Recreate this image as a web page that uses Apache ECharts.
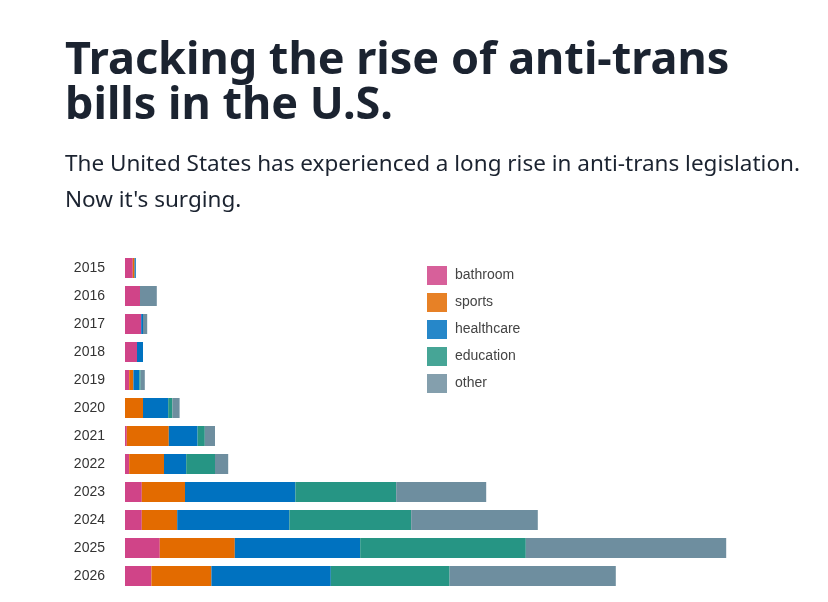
<!DOCTYPE html>
<html>
<head>
<meta charset="utf-8">
<script src="https://cdn.jsdelivr.net/npm/echarts@6/dist/echarts.min.js"></script>
<style>
  html, body { margin: 0; padding: 0; background: #fff; }
  #chart { width: 828px; height: 602px; }
</style>
</head>
<body>
<div id="chart"></div>
<script>
var years = ['2015', '2016', '2017', '2018', '2019', '2020', '2021', '2022', '2023', '2024', '2025', '2026'];
var bathroom   = [13, 25, 27, 20, 7, 0, 3, 7, 28, 28, 58, 44];
var sports     = [3, 0, 0, 0, 7, 30, 70, 58, 72, 59, 125, 100];
var healthcare = [2, 0, 3, 10, 10, 42, 48, 37, 184, 187, 209, 199];
var education  = [0, 0, 0, 0, 2, 7, 12, 48, 168, 203, 276, 198];
var other      = [0, 28, 7, 0, 7, 12, 17, 22, 150, 211, 334, 277];

var seriesNames = ['bathroom', 'sports', 'healthcare', 'education', 'other'];
var seriesData = [bathroom, sports, healthcare, education, other];
var colors = ['#d04488', '#e36b00', '#0072c0', '#269584', '#6e8e9f'];

var myChart = echarts.init(document.getElementById('chart'), null, {renderer: 'canvas'});

var series = seriesNames.map(function(name, i) {
    return {
        name: name,
        type: 'bar',
        stack: 'total',
        barWidth: 20,
        data: seriesData[i],
        itemStyle: { color: colors[i] },
        emphasis: { disabled: true }
    };
});

var option = {
    animation: false,
    title: [{
        text: 'Tracking the rise of anti-trans\nbills in the U.S.',
        left: 65,
        top: 39,
        padding: 0,
        textStyle: {
            fontFamily: 'Noto Sans',
            fontWeight: 'bold',
            fontSize: 45,
            lineHeight: 45,
            color: '#1b2330'
        }
    }, {
        text: 'The United States has experienced a long rise in anti-trans legislation.\nNow it\'s surging.',
        left: 65,
        top: 147,
        padding: 0,
        textStyle: {
            fontFamily: 'Noto Sans',
            fontWeight: 'normal',
            fontSize: 22.5,
            lineHeight: 36,
            color: '#1b2330'
        }
    }],
    legend: {
        orient: 'vertical',
        left: 427,
        top: 266,
        padding: 0,
        icon: 'rect',
        itemWidth: 20,
        itemHeight: 19,
        itemGap: 8,
        itemStyle: { opacity: 0.85 },
        textStyle: { fontFamily: 'Liberation Sans', fontSize: 14, color: '#444', padding: [0, 0, 0, 3] },
        data: seriesNames
    },
    grid: {
        left: 125,
        right: 43,
        top: 254,
        bottom: 12,
        containLabel: false
    },
    xAxis: {
        type: 'value',
        min: 0,
        max: 1100,
        show: false
    },
    yAxis: {
        type: 'category',
        inverse: true,
        data: years,
        axisLine: { show: false },
        axisTick: { show: false },
        axisLabel: {
            margin: 20,
            fontFamily: 'Liberation Sans',
            fontSize: 14,
            color: '#333'
        }
    },
    series: series
};

myChart.setOption(option);
</script>
</body>
</html>
